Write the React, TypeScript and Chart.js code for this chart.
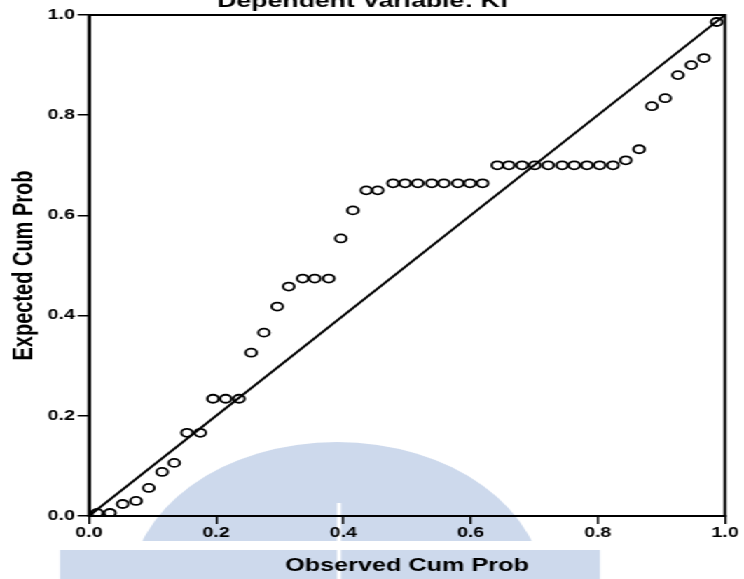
import React, { useEffect, useRef } from "react";
import { Chart, registerables } from "chart.js";

Chart.register(...registerables);

// ---- data ----
const observedCumProb = [
  0.013, 0.033, 0.053, 0.074, 0.094, 0.115, 0.134, 0.154, 0.175, 0.195,
  0.215, 0.236, 0.255, 0.275, 0.296, 0.314, 0.336, 0.355, 0.377, 0.396,
  0.415, 0.436, 0.454, 0.478, 0.497, 0.517, 0.539, 0.558, 0.580, 0.599,
  0.619, 0.642, 0.660, 0.681, 0.701, 0.722, 0.744, 0.763, 0.783, 0.803,
  0.824, 0.844, 0.865, 0.885, 0.906, 0.926, 0.947, 0.967, 0.987,
];
const expectedCumProb = [
  0.006, 0.006, 0.024, 0.030, 0.056, 0.088, 0.106, 0.166, 0.166, 0.234,
  0.234, 0.234, 0.326, 0.366, 0.418, 0.458, 0.474, 0.474, 0.474, 0.554,
  0.610, 0.650, 0.650, 0.664, 0.664, 0.664, 0.664, 0.664, 0.664, 0.664,
  0.664, 0.700, 0.700, 0.700, 0.700, 0.700, 0.700, 0.700, 0.700, 0.700,
  0.700, 0.710, 0.732, 0.818, 0.834, 0.880, 0.900, 0.914, 0.986,
];
const referenceX = [0, 1];
const referenceY = [0, 1];
const tickValues = [0, 0.2, 0.4, 0.6, 0.8, 1.0];
const tickLabels = ["0.0", "0.2", "0.4", "0.6", "0.8", "1.0"];
const chartTitle = "Dependent Variable: Kf";
const xAxisTitle = "Observed Cum Prob";
const yAxisTitle = "Expected Cum Prob";

// ---- layout ----
const PAGE_W = 744;
const PAGE_H = 579;
const LOGICAL_W = 531;
const SX = PAGE_W / LOGICAL_W; // the reference is stretched horizontally
const FONT = "'Liberation Sans', Arial, sans-serif";

export default function App() {
  const ref = useRef<HTMLCanvasElement | null>(null);

  useEffect(() => {
    const canvas = ref.current;
    if (!canvas) return;

    const lx = (px: number) => px / SX;

    const watermark = {
      id: "watermark",
      beforeDraw(chart: any) {
        const ctx = chart.ctx;
        ctx.save();
        ctx.fillStyle = "#cdd9ec";
        ctx.save();
        ctx.beginPath();
        ctx.rect(0, 0, LOGICAL_W, 541);
        ctx.clip();
        ctx.beginPath();
        ctx.ellipse(lx(337), 592, lx(207), 150, 0, 0, Math.PI * 2);
        ctx.fill();
        ctx.restore();
        ctx.fillRect(lx(60), 550, lx(600) - lx(60), PAGE_H - 550);
        ctx.fillStyle = "#ffffff";
        ctx.fillRect(lx(337), 503, lx(4), PAGE_H - 503);
        ctx.restore();
      },
    };

    const frameAndTitle = {
      id: "frameAndTitle",
      afterDraw(chart: any) {
        const ctx = chart.ctx;
        const a = chart.chartArea;
        ctx.save();
        ctx.strokeStyle = "#000";
        ctx.lineWidth = 2;
        ctx.strokeRect(a.left, a.top, a.right - a.left, a.bottom - a.top);
        ctx.fillStyle = "#000";
        ctx.font = `bold 19px ${FONT}`;
        ctx.textAlign = "center";
        ctx.textBaseline = "alphabetic";
        ctx.fillText(chartTitle, lx(363), 7);
        ctx.restore();
      },
    };

    const axisCommon = {
      type: "linear" as const,
      min: 0,
      max: 1,
      afterBuildTicks: (s: any) => {
        s.ticks = tickValues.map((v) => ({ value: v }));
      },
      border: { display: true, color: "#000", width: 2 },
      grid: {
        display: true,
        drawOnChartArea: false,
        drawTicks: true,
        tickLength: 8,
        color: "#000",
        lineWidth: 1.5,
      },
    };

    const chart = new Chart(canvas, {
      type: "scatter",
      data: {
        datasets: [
          {
            type: "line" as const,
            data: referenceX.map((x, i) => ({ x, y: referenceY[i] })),
            borderColor: "#000",
            borderWidth: 2,
            pointRadius: 0,
            fill: false,
          },
          {
            data: observedCumProb.map((x, i) => ({ x, y: expectedCumProb[i] })),
            pointStyle: "circle",
            pointRadius: 4,
            pointBorderWidth: 1.8,
            borderColor: "#000",
            backgroundColor: "rgba(0,0,0,0)",
          },
        ],
      },
      options: {
        responsive: false,
        animation: false,
        devicePixelRatio: 1,
        layout: { padding: { top: 15, right: LOGICAL_W - lx(725), left: 0, bottom: 0 } },
        plugins: {
          legend: { display: false },
          tooltip: { enabled: false },
          title: { display: false },
        },
        scales: {
          x: {
            ...axisCommon,
            position: "bottom",
            afterFit: (s: any) => {
              s.height = PAGE_H - 516;
            },
            ticks: {
              padding: 1,
              color: "#000",
              font: { family: FONT, size: 14, weight: "bold" },
              maxRotation: 0,
              callback: (_v: any, i: number) => tickLabels[i],
            },
            title: {
              display: true,
              text: xAxisTitle,
              color: "#000",
              font: { family: FONT, size: 18, weight: "bold" },
              padding: { top: 0, bottom: 2 },
            },
          },
          y: {
            ...axisCommon,
            position: "left",
            afterFit: (s: any) => {
              s.width = lx(89);
            },
            ticks: {
              padding: 2,
              color: "#000",
              font: { family: FONT, size: 14, weight: "bold" },
              callback: (_v: any, i: number) => tickLabels[i],
            },
            title: {
              display: true,
              text: yAxisTitle,
              color: "#000",
              font: { family: FONT, size: 20, weight: "bold" },
              padding: { top: 5, bottom: 0 },
            },
          },
        },
      },
      plugins: [watermark, frameAndTitle],
    } as any);

    return () => chart.destroy();
  }, []);

  return (
    <div
      style={{
        position: "fixed",
        left: 0,
        top: 0,
        width: LOGICAL_W,
        height: PAGE_H,
        transform: `scaleX(${SX})`,
        transformOrigin: "0 0",
        background: "#fff",
      }}
    >
      <canvas ref={ref} width={LOGICAL_W} height={PAGE_H} style={{ display: "block" }} />
    </div>
  );
}
